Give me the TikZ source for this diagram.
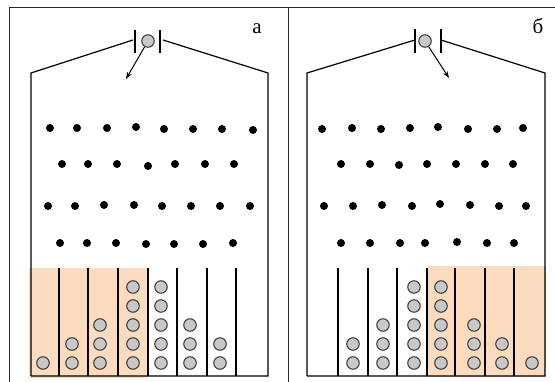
\documentclass[tikz,border=0pt]{standalone}
\usepackage{fontspec}
\setmainfont{Liberation Serif}
\usetikzlibrary{arrows.meta}
\definecolor{peach}{RGB}{252,219,190}
\definecolor{ballgray}{RGB}{200,200,200}
\tikzset{
  frameline/.style={line width=1pt, black!85},
  wall/.style={line width=1.2pt, black},
  peg/.style={circle, fill=black, inner sep=0pt, minimum size=8pt},
  ball/.style={circle, draw=black!80, line width=1pt, fill=ballgray, inner sep=0pt, minimum size=12.5pt},
  plate/.style={line width=1.2pt, black},
  fall/.style={line width=1pt, -{Stealth[length=7pt,width=5pt]}},
  lbl/.style={font=\fontsize{21}{21}\selectfont, inner sep=0pt}
}
\begin{document}
\begin{tikzpicture}[x=1pt,y=-1pt]
\useasboundingbox (0,0) rectangle (555,382);
% outer frame
\draw[frameline] (9,382) -- (9,8) -- (555,8);
\draw[frameline] (288,8) -- (288,382);
% shaded bins
\fill[peach] (29,268) rectangle (148,378);
\fill[peach] (427,266) rectangle (546,377);
% left container
\draw[wall] (31,376) -- (31,73) -- (133,40);
\draw[wall] (163,40) -- (268,73) -- (268,376) -- (31,376);
\draw[plate] (135,30) -- (135,53);
\draw[plate] (160,30) -- (160,53);
\foreach \x in {59,88,118,148,177,207,236}
  \draw[wall] (\x,268) -- (\x,376);
% right container
\draw[wall] (307,376) -- (307,73) -- (415,40);
\draw[wall] (441,40) -- (545,73) -- (545,376) -- (307,376);
\draw[plate] (415,29) -- (415,53);
\draw[plate] (441,29) -- (441,53);
\foreach \x in {338,368,397,427,455,485,514}
  \draw[wall] (\x,268) -- (\x,376);
% pegs left
\foreach \p [count=\i] in {(50,128),(77,128),(107,128),(136,127),(164,129),(193,129),(222,129),(253,130),
  (62,164),(88,164),(117,164),(148,166),(175,164),(205,164),(234,164),
  (48,206),(75,206),(104,205),(134,205),(162,206),(191,206),(220,206),(250,206),
  (60,243),(87,243),(116,243),(146,244),(174,244),(203,244),(233,243)}
  \node[peg] (pl\i) at \p {};
% pegs right
\foreach \p [count=\i] in {(322,129),(352,128),(381,129),(410,128),(438,127),(468,129),(497,129),(523,128),
  (341,164),(370,164),(399,165),(427,164),(456,164),(485,164),(513,164),
  (324,206),(353,206),(382,205),(412,206),(440,204),(470,205),(499,206),(526,206),
  (341,243),(370,243),(400,243),(425,243),(457,242),(487,243),(514,243)}
  \node[peg] (pr\i) at \p {};
% balls in left bins
\foreach \x/\n [count=\b] in {43/1,72/2,100/3,133/5,161/5,190/3,220/2}
  \foreach \k in {1,...,\n}
    \node[ball] (bl\b-\k) at (\x,{363-19*(\k-1)}) {};
% balls in right bins
\foreach \x/\n [count=\b] in {353/2,383/3,414/5,441/5,474/3,502/2,532/1}
  \foreach \k in {1,...,\n}
    \node[ball] (br\b-\k) at (\x,{363-19*(\k-1)}) {};
% falling balls and arrows
\node[ball] (sl) at (148,41) {};
\coordinate (el) at (126,79);
\draw[fall] (sl) -- (el);
\node[ball] (sr) at (425,41) {};
\coordinate (er) at (449,78);
\draw[fall] (sr) -- (er);
% labels
\node[lbl] (la) at (257,29) {а};
\node[lbl] (lb) at (538,26) {б};
\end{tikzpicture}
\end{document}
